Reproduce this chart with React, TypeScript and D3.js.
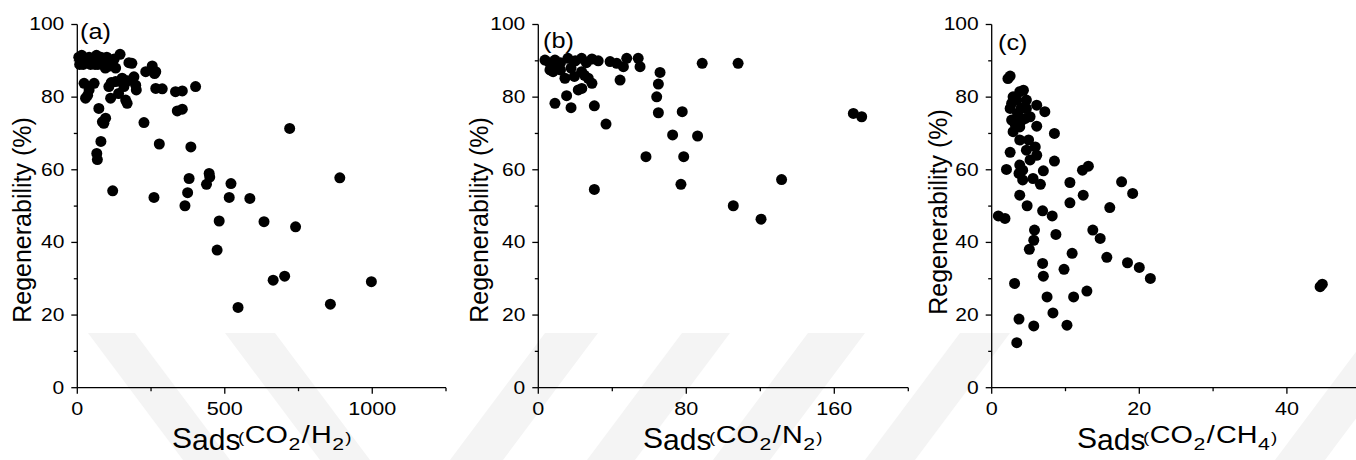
import React from "react";
import * as d3 from "d3";

// ---------- data ----------
const h2Points: [number, number][] = [
  [5, 91], [8, 89], [12, 90], [15, 91.5], [20, 89], [25, 90.5], [30, 90.5], [40, 91], [45, 89],
  [55, 90], [60, 89], [65, 91.5], [70, 89], [80, 91], [90, 90], [95, 88], [100, 91], [105, 88.5],
  [115, 89.5], [125, 90.5], [130, 88], [145, 91.8], [175, 89.5], [185, 89.3],
  [232, 87], [254, 88.6], [262, 86.5], [266, 87],
  [23, 83.8], [57, 83.8], [40, 82], [28, 79.7], [35, 80.5],
  [107, 82.9], [115, 84], [130, 84.3], [140, 81], [152, 85.2], [158, 82.9], [170, 84.5], [192, 85.6],
  [198, 83.3], [200, 82], [113, 79.7], [164, 79.2], [169, 78.3],
  [266, 82.4], [288, 82.3], [333, 81.5], [356, 81.7], [401, 82.9],
  [73, 76.9], [85, 73.2], [96, 74.2], [90, 72.8], [339, 76.2], [356, 76.7], [226, 73], [80, 67.8],
  [66, 64.5], [68, 62.8], [120, 54.2], [278, 67.1], [260, 52.4], [385, 66.3], [379, 57.6], [374, 53.7],
  [365, 50.1], [438, 56], [447, 59], [449, 58], [521, 56.2], [515, 52.4], [585, 52.1], [481, 45.9],
  [474, 37.9], [545, 22.1], [633, 45.7], [664, 29.6], [703, 30.7], [720, 71.4], [740, 44.3],
  [858, 23], [890, 57.8], [997, 29.2],
];

const n2Points: [number, number][] = [
  [3.6, 90.2], [6, 89.5], [9, 90.2], [12, 89.5], [16, 90.7], [20, 90], [23.4, 90.7], [26, 89.5],
  [29, 90.5], [32.4, 90], [6.3, 87.5], [8, 87], [10, 88.5], [12, 87.5], [14.4, 85.2], [17.7, 88],
  [19.5, 85.7], [23.4, 87], [25, 86], [27, 85.2], [29, 83.8], [23.5, 82.4], [21.6, 82],
  [38.8, 89.8], [42.4, 89.3], [46, 88.4], [47.8, 90.7], [54, 90.7], [55, 88.4], [44.2, 84.7],
  [65.8, 86.8], [64.9, 83.6], [64, 80.1], [64.9, 75.7], [77.8, 76], [72.6, 69.6],
  [15.3, 80.4], [9, 78.3], [17.7, 77.1], [30.3, 77.6], [36.6, 72.6], [30.3, 54.6],
  [58.2, 63.6], [78.6, 63.6], [77.1, 56], [86.1, 69.3], [88.6, 89.3], [108, 89.3],
  [105.4, 50.1], [120.4, 46.4], [131.5, 57.3], [170.3, 75.5], [174.8, 74.6],
];

const ch4Points: [number, number][] = [
  [3.8, 81.5], [4.3, 81.9], [2.9, 80.1], [3.4, 79.2], [4.7, 79.2], [2.7, 78.3], [2.5, 76.9],
  [4.7, 76.9], [3.5, 75.5], [4.0, 77], [2.7, 73.7], [4.5, 74.1], [5.2, 74.6], [3.8, 71.8],
  [3.2, 72.5], [4.0, 73.5], [2.9, 70.5], [6.1, 72], [6.1, 77.8], [7.2, 76], [3.8, 68.2], [5, 68.2],
  [2.5, 64.8], [2, 60.1], [2.2, 85.1], [2.5, 85.8],
  [5.9, 66.3], [4.7, 65.4], [6.1, 64], [5.2, 62.7], [3.8, 61.3], [4.2, 59.9], [3.7, 59], [4.2, 57.2],
  [5.6, 57.6], [6.6, 56], [7, 59.7], [8.5, 70], [8.5, 62.4], [3.8, 53], [4.8, 50.1], [6.9, 48.7],
  [8.2, 47.3], [0.9, 47.3], [1.8, 46.6], [5.8, 43.4], [5.7, 40.6], [5.1, 38.1], [8.7, 42.2],
  [6.9, 34.2], [7, 30.7], [7.5, 25], [8.3, 20.6], [3.1, 28.7], [3.7, 18.9], [3.4, 12.4], [5.7, 17],
  [9.8, 32.6], [10.9, 37], [11.1, 25], [10.2, 17.2], [10.6, 56.5], [10.6, 50.9], [12.4, 53],
  [12.3, 59.9], [13.1, 61], [12.9, 26.6], [13.7, 43.4], [14.7, 41.1], [15.6, 35.9], [16, 49.6],
  [17.6, 56.7], [19.1, 53.5], [18.4, 34.4], [20, 33.1], [21.5, 30.1], [44.5, 27.8], [44.8, 28.5],
];

const yTicks = [0, 20, 40, 60, 80, 100];
const yMinorTicks = [10, 30, 50, 70, 90];
const h2Ticks = [0, 500, 1000];
const h2Minor = [250, 750, 1250];
const n2Ticks = [0, 80, 160];
const n2Minor = [40, 120, 200];
const ch4Ticks = [0, 20, 40];
const ch4Minor = [10, 30, 50];
const panelLetters = ["(a)", "(b)", "(c)"];
const gasNames = ["H", "N", "CH"];
const gasSubs = ["2", "2", "4"];
const yTitle = "Regenerability (%)";

// ---------- layout ----------
const FONT = "'Liberation Sans', Arial, Helvetica, sans-serif";
const Y_BOTTOM = 387.7;
const Y_TOP = 24.5;
const SX = 1.2;

const panels = [
  { points: h2Points, domain: [0, 1250], range: [77.3, 446], ticks: h2Ticks, minor: h2Minor,
    letterX: 80, letterY: 39, yTitleOff: 46, yTitleCy: 220, xTitleX: 172 },
  { points: n2Points, domain: [0, 200], range: [538.3, 908.3], ticks: n2Ticks, minor: n2Minor,
    letterX: 543, letterY: 48, yTitleOff: 50, yTitleCy: 220, xTitleX: 643 },
  { points: ch4Points, domain: [0, 50], range: [991.7, 1360.7], ticks: ch4Ticks, minor: ch4Minor,
    letterX: 998, letterY: 50, yTitleOff: 45, yTitleCy: 212, xTitleX: 1077 },
];

const watermark: [number, number][][] = [
  [[88, 333], [135, 333], [230, 460], [183, 460]],
  [[225, 333], [275, 333], [370, 460], [320, 460]],
  [[545, 333], [598, 333], [503, 460], [450, 460]],
  [[682, 333], [730, 333], [635, 460], [587, 460]],
  [[808, 333], [865, 333], [770, 460], [713, 460]],
  [[960, 333], [1010, 333], [915, 460], [865, 460]],
  [[1370, 333], [1420, 333], [1325, 460], [1275, 460]],
];

function Panel({ idx }: { idx: number }) {
  const p = panels[idx];
  const x = d3.scaleLinear().domain(p.domain).range(p.range);
  const y = d3.scaleLinear().domain([0, 100]).range([Y_BOTTOM, Y_TOP]);
  const x0 = x(p.domain[0]);
  const x1 = x(p.domain[1]);
  const stroke = "#000";
  return (
    <g>
      <line x1={x0} x2={x0} y1={y(0)} y2={y(100)} stroke={stroke} strokeWidth={1.3} />
      <line x1={x0} x2={x1} y1={y(0)} y2={y(0)} stroke={stroke} strokeWidth={1.3} />
      {yTicks.map((t) => (
        <g key={"yt" + t}>
          <line x1={x0 - 6} x2={x0} y1={y(t)} y2={y(t)} stroke={stroke} strokeWidth={1.3} />
          <text
            transform={`translate(${x0 - 13},${y(t)}) scale(${SX},1)`}
            textAnchor="end"
            dominantBaseline="central"
            fontSize={17.5}
            fontFamily={FONT}
          >
            {t}
          </text>
        </g>
      ))}
      {yMinorTicks.map((t) => (
        <line key={"ym" + t} x1={x0 - 3.5} x2={x0} y1={y(t)} y2={y(t)} stroke={stroke} strokeWidth={1.3} />
      ))}
      {p.ticks.map((t) => (
        <g key={"xt" + t}>
          <line x1={x(t)} x2={x(t)} y1={y(0)} y2={y(0) + 6} stroke={stroke} strokeWidth={1.3} />
          <text
            transform={`translate(${x(t)},${y(0) + 27.5}) scale(${SX},1)`}
            textAnchor="middle"
            fontSize={18}
            fontFamily={FONT}
          >
            {t}
          </text>
        </g>
      ))}
      {p.minor.map((t) => (
        <line key={"xm" + t} x1={x(t)} x2={x(t)} y1={y(0)} y2={y(0) + 3.5} stroke={stroke} strokeWidth={1.3} />
      ))}
      {p.points.map((d, i) => (
        <circle key={i} cx={x(d[0])} cy={y(d[1])} r={5.5} fill="#000" />
      ))}
      <text
        transform={`translate(${p.letterX},${p.letterY}) scale(1.15,1)`}
        fontSize={22}
        fontFamily={FONT}
      >
        {panelLetters[idx]}
      </text>
      <text
        transform={`translate(${x0 - p.yTitleOff},${p.yTitleCy}) rotate(-90)`}
        textAnchor="middle"
        fontSize={25}
        fontFamily={FONT}
      >
        {yTitle}
      </text>
      <text x={p.xTitleX} y={448} fontFamily={FONT}>
        <tspan fontSize={30}>S</tspan>
        <tspan fontSize={30} dy={1.5}>ads</tspan>
      </text>
      <text transform={`translate(${p.xTitleX + 66},443) scale(1.25,1)`} fontFamily={FONT}>
        <tspan fontSize={15}>(</tspan>
        <tspan fontSize={23} dx={0.5}>CO</tspan>
        <tspan fontSize={17} dy={6.5} dx={0.5}>2</tspan>
        <tspan fontSize={23} dy={-6.5} dx={1}>/</tspan>
        <tspan fontSize={23} dx={1}>{gasNames[idx]}</tspan>
        <tspan fontSize={17} dy={6.5} dx={0.5}>{gasSubs[idx]}</tspan>
        <tspan fontSize={15} dy={-6.5} dx={1}>)</tspan>
      </text>
    </g>
  );
}

export default function App() {
  return (
    <svg
      width={1356}
      height={460}
      style={{ position: "absolute", left: 0, top: 0, background: "#fff" }}
    >
      <rect x={0} y={0} width={1356} height={460} fill="#fff" />
      {watermark.map((poly, i) => (
        <polygon key={i} points={poly.map((q) => q.join(",")).join(" ")} fill="#f4f4f4" />
      ))}
      {panels.map((_, i) => (
        <Panel key={i} idx={i} />
      ))}
    </svg>
  );
}
